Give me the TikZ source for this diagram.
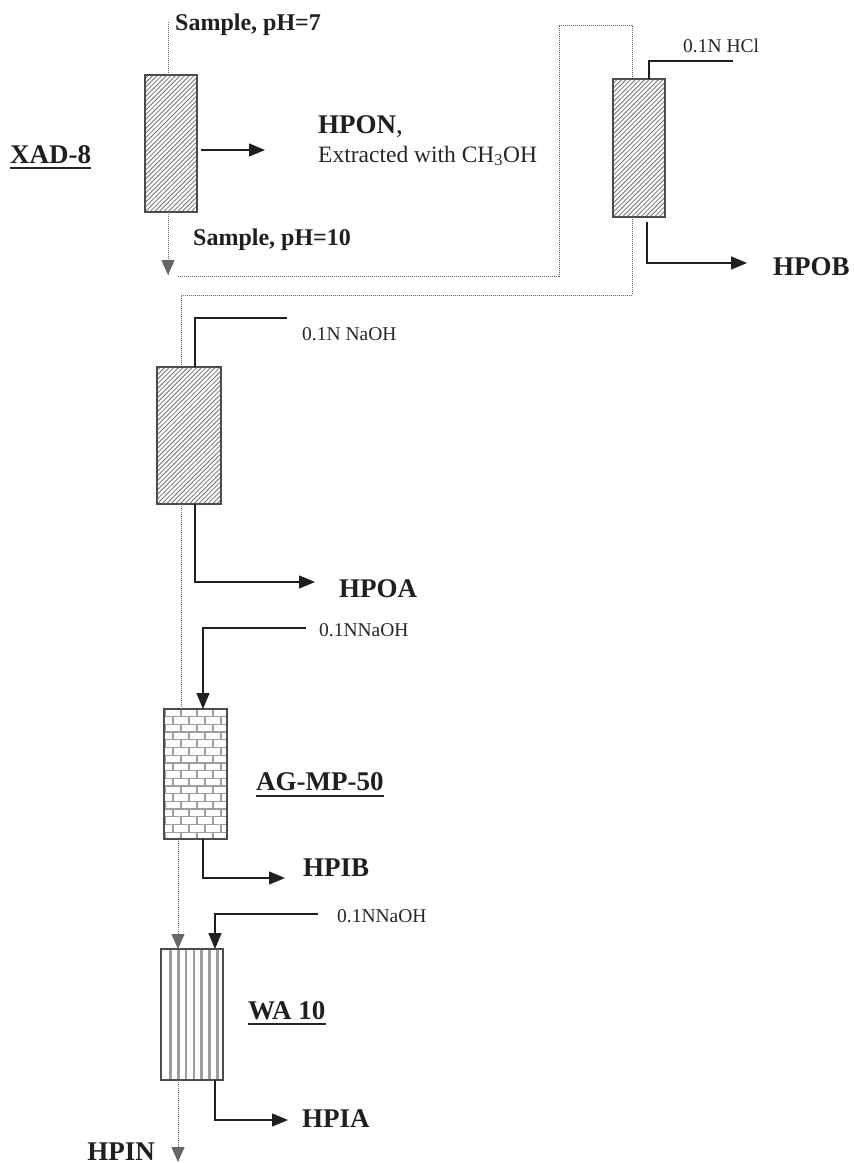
\documentclass[tikz,border=0pt]{standalone}
\usepackage{fontspec}
\setmainfont{Liberation Serif}
\usetikzlibrary{arrows.meta,calc}
\definecolor{colb}{gray}{0.30}
\definecolor{hatchc}{gray}{0.45}
\definecolor{brickc}{gray}{0.62}
\definecolor{stripec}{gray}{0.62}
\definecolor{dotc}{gray}{0.40}
\definecolor{linec}{gray}{0.12}
\begin{document}
\begin{tikzpicture}[x=1pt,y=-1pt,
  colbox/.style={draw=colb, line width=1.4pt, fill=white, inner sep=0pt, outer sep=0pt, anchor=north west},
  hatch/.style={path picture={
     \foreach \i in {-36,...,16}{
       \draw[hatchc, line width=0.8pt] ([xshift=\i*4.6pt]path picture bounding box.south west) -- ++(200pt,200pt);
     }}},
  brick/.style={brickc, line width=1.3pt},
  stripe/.style={stripec, line width=2.6pt},
  border/.style={draw=colb, line width=1.4pt},
  big/.style={font=\fontsize{27}{30}\selectfont\bfseries, anchor=base west, inner sep=0pt, text=black!88},
  samp/.style={font=\fontsize{24}{28}\selectfont\bfseries, anchor=base west, inner sep=0pt, text=black!88},
  reag/.style={font=\fontsize{19.5}{22}\selectfont, anchor=base west, inner sep=0pt, text=black!85},
  uline/.style={line width=2.2pt, black!85},
  sol/.style={draw=linec, line width=1.3pt},
  arr/.style={sol, -{Triangle[length=16pt,width=13pt]}},
  dot/.style={draw=dotc, line width=1pt, dash pattern=on 1pt off 1pt},
  dotarr/.style={dot, -{Triangle[length=15pt,width=13pt,fill=dotc]}}
]
\useasboundingbox (0,0) rectangle (854,1163);

% coordinates
\coordinate (s0) at (168,22);
\coordinate (d1) at (168,275);
\coordinate (d2) at (178,276);
\coordinate (b1) at (559,276);
\coordinate (b2) at (559,25);
\coordinate (b3) at (632,25);
\coordinate (b4) at (632,295);
\coordinate (b5) at (181,295);
\coordinate (hpinarr) at (178,1162);
\coordinate (hponst) at (201,150);
\coordinate (aHPON) at (265,150);
\coordinate (hclend) at (733,61);
\coordinate (aHPOB) at (747,263);
\coordinate (naoh1end) at (287,318);
\coordinate (aHPOA) at (315,582);
\coordinate (naoh2st) at (306,628);
\coordinate (aHPIB) at (285,878);
\coordinate (naoh3st) at (318,914);
\coordinate (aHPIA) at (288,1120);

% dotted sample flow
\draw[dot] (s0) -- (168,75);
\draw[dot] (168,212) -- (d1);
\draw[dot] (d2) -- (b1) -- (b2) -- (b3) -- (632,79);

% columns
\node[colbox, hatch, minimum width=52pt, minimum height=137pt] (c1) at (145,75) {};
\node[colbox, hatch, minimum width=52pt, minimum height=138pt] (c2) at (613,79) {};
\node[colbox, hatch, minimum width=64pt, minimum height=137pt] (c3) at (157,367) {};
\node[colbox, minimum width=63pt, minimum height=130pt] (c4) at (164,709) {};
\node[colbox, minimum width=62pt, minimum height=131pt] (c5) at (161,949) {};

% brick pattern in AG-MP-50
\begin{scope}[shift={(c4.north west)}]
  \clip (0,0) rectangle (63,130);
  \foreach \r in {0,...,17}{
    \draw[brick] (-2,{\r*7.7}) -- (80,{\r*7.7});
    \pgfmathsetmacro{\off}{mod(\r,2)==0 ? 1 : 9}
    \foreach \k in {0,...,4}{
      \draw[brick] ({\off+\k*16},{\r*7.7}) -- ({\off+\k*16},{(\r+1)*7.7});
    }
  }
\end{scope}
\draw[border] (c4.north west) rectangle (c4.south east);

% stripe pattern in WA 10
\begin{scope}[shift={(c5.north west)}]
  \clip (0,0) rectangle (62,131);
  \foreach \k in {1,...,7}{
    \draw[stripe] ({1.5+\k*7.85},-2) -- ({1.5+\k*7.85},140);
  }
\end{scope}
\draw[border] (c5.north west) rectangle (c5.south east);

% dotted connectors between columns
\draw[dotarr] (c1.south -| s0) -- (d1);
\draw[dot] (b3 |- c2.south) -- (b4) -- (b5) -- (b5 |- c3.north);
\draw[dot] (b5 |- c3.south) -- (b5 |- c4.north);
\draw[dotarr] (c4.south -| hpinarr) -- (c5.north -| hpinarr);
\draw[dotarr] (c5.south -| hpinarr) -- (hpinarr);

% solid connectors
\draw[arr] (hponst) -- (aHPON);
\draw[sol] (hclend) -| ($(c2.north)+(10,0)$);
\draw[arr] ($(c2.south)+(8,5)$) |- (aHPOB);
\draw[sol] (naoh1end) -| ($(c3.north)+(6,0)$);
\draw[arr] ($(c3.south)+(6,0)$) |- (aHPOA);
\draw[arr] (naoh2st) -| ($(c4.north)+(7.5,0)$);
\draw[arr] ($(c4.south)+(7.5,0)$) |- (aHPIB);
\draw[arr] (naoh3st) -| ($(c5.north)+(23,0)$);
\draw[arr] ($(c5.south)+(23,0)$) |- (aHPIA);

% labels
\node[big] (xad) at (10,163) {XAD-8};
\draw[uline] ($(xad.base west)+(0,5)$) -- ($(xad.base east)+(0,5)$);
\node[samp] (s7) at (175,30) {Sample, pH=7};
\node[samp] (s10) at (193,245) {Sample, pH=10};
\node[big] (hpon) at (318,133) {HPON\mdseries,};
\node[anchor=base west, inner sep=0pt, font=\fontsize{23.5}{26}\selectfont, text=black!85] (extr) at (318,162) {Extracted with CH\textsubscript{3}OH};
\node[reag] (hcl) at (683,52) {0.1N HCl};
\node[big] (hpob) at (773,275) {HPOB};
\node[reag] (naoh1) at (302,340) {0.1N NaOH};
\node[big] (hpoa) at (339,597) {HPOA};
\node[reag] (naoh2) at (319,636) {0.1NNaOH};
\node[big] (agmp) at (256,790) {AG-MP-50};
\draw[uline] ($(agmp.base west)+(0,6)$) -- ($(agmp.base east)+(0,6)$);
\node[big] (hpib) at (303,876) {HPIB};
\node[reag] (naoh3) at (337,922) {0.1NNaOH};
\node[big] (wa) at (248,1019) {WA 10};
\draw[uline] ($(wa.base west)+(0,5)$) -- ($(wa.base east)+(0,5)$);
\node[big] (hpia) at (302,1127) {HPIA};
\node[big, anchor=base east] (hpin) at (155,1160) {HPIN};
\end{tikzpicture}
\end{document}
